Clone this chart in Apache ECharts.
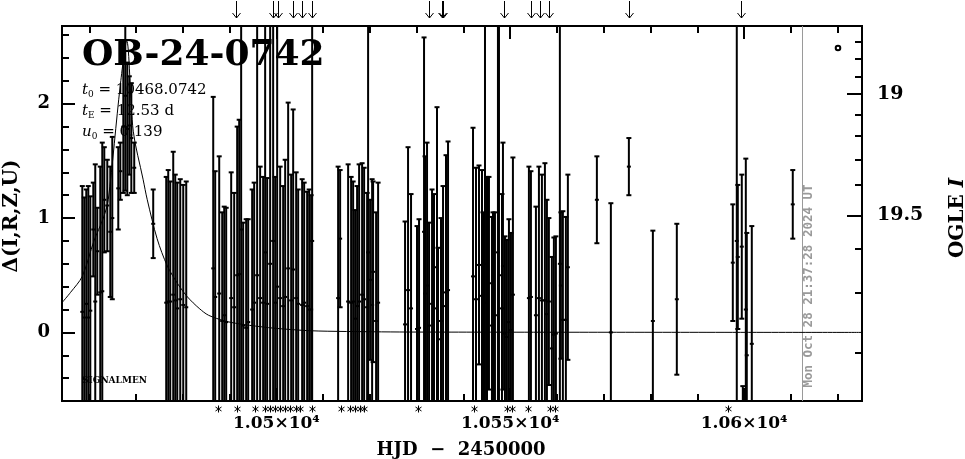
<!DOCTYPE html>
<html><head><meta charset="utf-8">
<script src="https://cdn.jsdelivr.net/npm/echarts@6/dist/echarts.min.js"></script>
<style>html,body{margin:0;padding:0;background:#fff}#c{width:965px;height:459px}</style>
</head><body><div id="c"></div>
<script>
// ---- data (HJD-2450000, Delta flux, error) ----
const hjd = [
 10458.51,10458.93,10459.36,10459.79,10460.22,10460.86,10461.28,10461.71,10462.35,10462.78,10463.21,10463.85,10464.49,10464.92,
 10466.20,10466.64,10467.28,10467.70,10468.13,10468.56,10468.99,10469.61,10473.67,
 10476.45,10476.88,10477.31,10477.95,10478.38,10478.81,10479.45,10480.09,10480.73,
 10486.50,10486.92,10487.78,10488.42,10488.85,10489.27,10490.34,10490.98,10491.62,10492.05,10492.47,10492.90,10493.54,10493.97,
 10494.82,10495.25,10495.89,10496.53,10497.17,10497.60,10498.03,10498.67,10499.31,10499.74,10500.17,10500.81,10501.45,10501.88,
 10502.52,10503.16,10503.59,10504.23,10504.66,10505.51,10505.94,10506.58,10507.01,10507.43,10507.65,
 10513.20,10513.63,10515.34,10515.98,10516.41,10516.83,10517.26,10517.69,10518.33,10518.76,10519.40,10519.61,10520.04,10520.47,10520.68,10521.32,10521.75,
 10527.51,10528.15,10528.79,10530.07,10530.50,10531.57,10531.78,10532.21,10532.64,10533.28,10533.70,10534.34,10534.56,10535.20,10535.63,10536.27,10536.70,
 10542.04,10542.68,10543.32,10543.96,10544.17,10544.60,10545.03,10545.45,10546.09,10546.31,10546.73,10547.37,10547.59,10548.23,10548.44,10548.87,10549.29,10549.72,10550.15,10550.57,
 10553.99,10554.42,10555.49,10556.13,10556.77,10557.41,10557.84,10558.26,10558.90,10559.33,10559.76,10560.61,10560.83,10561.25,10561.89,10562.32,
 10568.52,10571.51,10575.36,10580.49,10585.61,10597.58,10598.43,10598.65,10599.50,10599.72,10600.36,10600.57,10601.64,10610.40
];
const delta = [
 0.18,0.13,0.25,0.13,0.19,0.90,0.27,0.71,0.35,0.36,1.16,1.11,0.88,1.00,
 1.26,1.41,1.80,2.07,1.78,1.81,1.70,1.44,0.95,
 0.26,0.27,0.27,0.33,0.28,0.21,0.29,0.24,0.22,
 0.56,0.31,0.34,0.10,0.15,0.09,0.30,0.22,0.50,0.51,0.90,0.06,0.04,0.09,
 0.20,0.26,0.50,0.30,0.26,0.70,0.25,0.60,0.80,0.26,0.40,0.30,0.23,0.31,
 0.56,0.28,0.55,0.30,0.25,0.24,0.26,0.23,0.20,0.20,0.80,
 0.30,0.82,0.27,0.26,0.27,0.12,0.23,0.27,0.33,0.29,0.22,0.70,0.46,0.24,0.53,0.10,0.26,
 0.07,0.37,0.21,0.03,0.04,0.88,0.34,0.41,0.06,0.25,0.21,0.57,-0.06,0.10,0.23,0.35,0.37,
 0.49,0.29,0.59,0.32,0.10,0.60,0.26,0.43,0.06,0.10,0.15,0.70,0.50,0.21,0.58,-0.01,-0.04,0.09,0.02,0.33,
 0.30,0.31,0.15,0.30,0.28,0.28,0.16,0.27,-0.14,-0.02,-0.01,0.60,0.41,0.11,0.11,0.57,
 1.16,0.00,1.45,0.10,0.29,0.61,0.80,0.66,0.75,-1.20,0.20,-0.20,-0.10,1.12
];
const err = [
 1.10,1.05,1.00,1.15,1.00,0.41,1.20,0.38,1.10,1.30,0.46,0.40,0.57,0.71,
 0.36,0.25,0.58,0.83,0.58,0.43,0.48,0.22,0.30,
 1.10,1.15,1.05,1.25,1.10,1.10,1.05,1.05,1.10,
 1.50,1.10,1.20,0.95,0.95,1.00,1.10,1.00,1.30,1.35,2.20,0.90,0.95,0.90,
 1.05,1.05,2.50,1.15,1.10,2.30,1.10,2.40,2.20,1.10,2.60,1.15,1.05,1.20,
 1.45,1.10,1.40,1.10,1.00,1.10,1.05,1.00,1.05,1.00,2.20,
 1.15,0.60,1.20,1.10,1.05,0.95,1.05,1.20,1.15,1.15,1.00,2.30,0.70,1.10,0.79,0.95,1.05,
 0.90,1.25,1.00,0.90,0.95,1.70,1.20,1.25,0.90,1.00,1.00,1.40,0.80,0.90,1.05,1.20,1.30,
 1.30,1.15,0.87,1.10,0.95,2.40,1.10,0.93,0.95,0.95,0.90,2.40,2.50,1.00,1.08,0.85,0.85,0.90,0.85,1.20,
 1.15,1.10,0.95,1.15,1.10,1.20,1.00,0.73,0.80,0.85,0.85,2.40,0.64,0.95,0.90,0.81,
 0.38,1.13,0.25,0.79,0.66,0.51,2.20,0.63,0.63,0.73,1.32,1.07,1.03,0.30
];
// model curve
const modelHjd = [10454.17,10456.0,10458.5,10461.0,10463.0,10464.06,10466.6,10468.0,10469.4,10471.5,10472.4,10474.5,10476.7,10479.0,10481.0,10483.5,10485.5,10489.0,10492.0,10496.6,10500.0,10507.0,10515.0,10530.0,10625.2];
const modelDelta = [0.26,0.35,0.49,0.80,1.00,1.16,2.15,2.55,1.76,1.34,1.16,0.82,0.58,0.42,0.31,0.21,0.15,0.10,0.075,0.05,0.035,0.015,0.008,0.003,0.0];
// epochs marked by arrows (top) and asterisks (bottom)
const arrowHjd = [10491.4,10499.3,10500.4,10503.6,10505.5,10507.6,10532.6,10535.5,10535.7,10548.7,10554.5,10556.4,10558.3,10575.4,10599.3];
const starHjd = [10487.6,10491.6,10495.5,10497.6,10498.7,10499.7,10500.8,10501.9,10503.0,10504.2,10505.1,10507.6,10513.8,10515.7,10516.8,10517.9,10518.7,10530.3,10542.3,10549.3,10550.4,10553.8,10558.5,10559.6,10596.5];
const nowHjd = 10612.4;
// axis ticks & labels
const xMajorTicks = [10500,10550,10600];
const xMajorLabels = ['1.05×10⁴','1.055×10⁴','1.06×10⁴'];
const xMinorTicks = [10460,10470,10480,10490,10500,10510,10520,10530,10540,10550,10560,10570,10580,10590,10600,10610,10620];
const yMajorTicks = [0,1,2];
const yMinorTicks = [-0.6,-0.4,-0.2,0,0.2,0.4,0.6,0.8,1.0,1.2,1.4,1.6,1.8,2.0,2.2,2.4,2.6];
const magTicks = [18.7,18.8,18.9,19.0,19.1,19.2,19.3,19.4,19.5,19.6,19.7,19.8];
const magTickDelta = [2.54,2.39,2.24,2.087,1.90,1.72,1.51,1.29,1.024,0.73,0.35,-0.18];
const magLabelValues = [19.0,19.5];
const magLabelText = ['19','19.5'];

const X_MIN = 10454.17, X_MAX = 10625.2, Y_MIN = -0.6, Y_MAX = 2.68;
const SERIF = '"DejaVu Serif", serif';

const magMajorDelta = magLabelValues.map(m => magTickDelta[magTicks.indexOf(m)]);

const chart = echarts.init(document.getElementById('c'), null, {renderer:'canvas'});

function xAx(pos, ticks, len, labels) {
  return {
    type:'value', position:pos, min:X_MIN, max:X_MAX,
    axisLine:{show:true, onZero:false, lineStyle:{color:'#000', width:2}},
    axisTick:{show:true, inside:true, length:len, customValues:ticks, lineStyle:{color:'#000', width:2}},
    axisLabel: labels ? {show:true, customValues:xMajorTicks, margin:14, color:'#000', fontFamily:SERIF, fontWeight:'bold', fontSize:17,
      formatter:v => xMajorLabels[xMajorTicks.indexOf(v)] || ''} : {show:false},
    splitLine:{show:false}
  };
}
function yAx(pos, ticks, len, labelVals, fmt, margin, fs) {
  return {
    type:'value', position:pos, min:Y_MIN, max:Y_MAX,
    axisLine:{show:true, onZero:false, lineStyle:{color:'#000', width:2}},
    axisTick:{show:true, inside:true, length:len, customValues:ticks, lineStyle:{color:'#000', width:2}},
    axisLabel: labelVals ? {show:true, customValues:labelVals, margin:margin, color:'#000', fontFamily:SERIF, fontWeight:'bold', fontSize:fs, formatter:fmt, align: pos==='right'?'left':'right'} : {show:false},
    splitLine:{show:false}
  };
}

function renderBar(params, api) {
  const cs = params.coordSys;
  const t = api.value(0), d = api.value(1), e = api.value(2);
  const mid = api.coord([t, d]);
  const x = mid[0];
  const yTop = api.coord([t, d + e])[1];
  const yBot = api.coord([t, d - e])[1];
  const y0 = cs.y, y1 = cs.y + cs.height;
  const a = Math.max(yTop, y0), b = Math.min(yBot, y1);
  const st = {stroke:'#000', lineWidth:2};
  const ch = [];
  if (a < b) ch.push({type:'line', shape:{x1:x, y1:a, x2:x, y2:b}, style:st});
  if (yTop >= y0 && yTop <= y1) ch.push({type:'line', shape:{x1:x-2.5, y1:yTop, x2:x+2.5, y2:yTop}, style:st});
  if (yBot >= y0 && yBot <= y1) ch.push({type:'line', shape:{x1:x-2.5, y1:yBot, x2:x+2.5, y2:yBot}, style:st});
  if (mid[1] >= y0 && mid[1] <= y1) ch.push({type:'rect', shape:{x:x-2, y:mid[1]-1, width:4, height:2}, style:{fill:'#000'}});
  return {type:'group', children:ch};
}
function renderArrow(params, api) {
  const cs = params.coordSys;
  const x = Math.round(api.coord([api.value(0), 0])[0]) + 0.5;
  const top = cs.y - 25, tip = cs.y - 8;
  const st = {stroke:'#000', lineWidth:1};
  return {type:'group', children:[
    {type:'line', shape:{x1:x, y1:top, x2:x, y2:tip}, style:st},
    {type:'line', shape:{x1:x-4, y1:tip-5, x2:x, y2:tip}, style:st},
    {type:'line', shape:{x1:x+4, y1:tip-5, x2:x, y2:tip}, style:st}
  ]};
}
function renderStar(params, api) {
  const cs = params.coordSys;
  const x = Math.round(api.coord([api.value(0), 0])[0]) + 0.5;
  const cy = cs.y + cs.height + 8;
  const st = {stroke:'#000', lineWidth:1};
  return {type:'group', children:[
    {type:'line', shape:{x1:x, y1:cy-3.5, x2:x, y2:cy+3.5}, style:st},
    {type:'line', shape:{x1:x-3, y1:cy-2, x2:x+3, y2:cy+2}, style:st},
    {type:'line', shape:{x1:x-3, y1:cy+2, x2:x+3, y2:cy-2}, style:st}
  ]};
}
function renderNow(params, api) {
  const cs = params.coordSys;
  const x = Math.round(api.coord([api.value(0), 0])[0]) + 0.5;
  return {type:'line', shape:{x1:x, y1:cs.y, x2:x, y2:cs.y+cs.height}, style:{stroke:'#9a9a9a', lineWidth:1}};
}

const option = {
  animation:false,
  backgroundColor:'#fff',
  grid:{left:62, right:103, top:26, bottom:58, containLabel:false},
  xAxis:[ xAx('bottom', xMinorTicks, 7, true), xAx('bottom', xMajorTicks, 13, false),
          xAx('top', xMinorTicks, 7, false), xAx('top', xMajorTicks, 13, false) ],
  yAxis:[ yAx('left', yMajorTicks, 13, yMajorTicks, v => String(Math.round(v)), 12, 18),
          yAx('left', yMinorTicks, 7, null),
          yAx('right', magMajorDelta, 15, magMajorDelta, v => { const i = magMajorDelta.findIndex(q => Math.abs(q - v) < 1e-6); return i >= 0 ? magLabelText[i] : ''; }, 15, 19),
          yAx('right', magTickDelta, 7, null) ],
  series:[
    {type:'custom', name:'now', xAxisIndex:0, yAxisIndex:0, data:[[nowHjd]], encode:{x:0}, renderItem:renderNow, clip:false, z:1},
    {type:'line', name:'model', xAxisIndex:0, yAxisIndex:0, data:modelHjd.map((t,i)=>[t, modelDelta[i]]), showSymbol:false, clip:true, smooth:0.3,
      lineStyle:{color:'#000', width:1}, z:2},
    {type:'custom', name:'data', xAxisIndex:0, yAxisIndex:0, data:hjd.map((t,i)=>[t, delta[i], err[i]]), encode:{x:0, y:1}, renderItem:renderBar, clip:false, z:3},
    {type:'custom', name:'arrows', xAxisIndex:0, yAxisIndex:0, data:arrowHjd.map(t=>[t]), encode:{x:0}, renderItem:renderArrow, clip:false, z:3},
    {type:'custom', name:'stars', xAxisIndex:0, yAxisIndex:0, data:starHjd.map(t=>[t]), encode:{x:0}, renderItem:renderStar, clip:false, z:3}
  ],
  graphic:[
    {type:'text', x:82, y:56, z:10, style:{text:'OB-24-0742', fill:'#000', fontFamily:SERIF, fontWeight:'bold', fontSize:36, align:'left', verticalAlign:'middle'}},
    {type:'text', x:82, y:90, z:10, style:{text:'{i|t}{s|0}{n| = 10468.0742}', fill:'#000', align:'left', verticalAlign:'middle',
      rich:{i:{fontFamily:SERIF, fontStyle:'italic', fontSize:15, lineHeight:18, verticalAlign:'middle'}, s:{fontFamily:SERIF, fontSize:9, lineHeight:18, verticalAlign:'bottom'}, n:{fontFamily:SERIF, fontSize:15, lineHeight:18, verticalAlign:'middle'}}}},
    {type:'text', x:82, y:111, z:10, style:{text:'{i|t}{s|E}{n| = 12.53 d}', fill:'#000', align:'left', verticalAlign:'middle',
      rich:{i:{fontFamily:SERIF, fontStyle:'italic', fontSize:15, lineHeight:18, verticalAlign:'middle'}, s:{fontFamily:SERIF, fontSize:9, lineHeight:18, verticalAlign:'bottom'}, n:{fontFamily:SERIF, fontSize:15, lineHeight:18, verticalAlign:'middle'}}}},
    {type:'text', x:82, y:132, z:10, style:{text:'{i|u}{s|0}{n| = 0.139}', fill:'#000', align:'left', verticalAlign:'middle',
      rich:{i:{fontFamily:SERIF, fontStyle:'italic', fontSize:15, lineHeight:18, verticalAlign:'middle'}, s:{fontFamily:SERIF, fontSize:9, lineHeight:18, verticalAlign:'bottom'}, n:{fontFamily:SERIF, fontSize:15, lineHeight:18, verticalAlign:'middle'}}}},
    {type:'text', x:82, y:381, z:10, style:{text:'SIGNALMEN', fill:'#000', fontFamily:SERIF, fontWeight:'bold', fontSize:9, align:'left', verticalAlign:'middle'}},
    {type:'text', x:808.5, y:286, rotation:Math.PI/2, z:10, style:{text:'Mon Oct 28 21:37:28 2024 UT', fill:'#9a9a9a', fontFamily:'"DejaVu Sans Mono", monospace', fontWeight:'bold', fontSize:12.5, align:'center', verticalAlign:'middle'}},
    {type:'circle', shape:{cx:838, cy:48, r:2.3}, z:10, style:{fill:'none', stroke:'#000', lineWidth:2}},
    {type:'text', x:12, y:216, rotation:Math.PI/2, z:10, style:{text:'Δ(I,R,Z,U)', fill:'#000', fontFamily:SERIF, fontWeight:'bold', fontSize:20, align:'center', verticalAlign:'middle'}},
    {type:'text', x:958, y:218, rotation:Math.PI/2, z:10, style:{text:'{n|OGLE }{i|I}', fill:'#000', align:'center', verticalAlign:'middle',
      rich:{n:{fontFamily:SERIF, fontWeight:'bold', fontSize:20}, i:{fontFamily:SERIF, fontWeight:'bold', fontStyle:'italic', fontSize:20}}}},
    {type:'text', x:461, y:450, z:10, style:{text:'HJD  −  2450000', fill:'#000', fontFamily:SERIF, fontWeight:'bold', fontSize:18, align:'center', verticalAlign:'middle'}}
  ]
};
chart.setOption(option);
</script>
</body></html>
